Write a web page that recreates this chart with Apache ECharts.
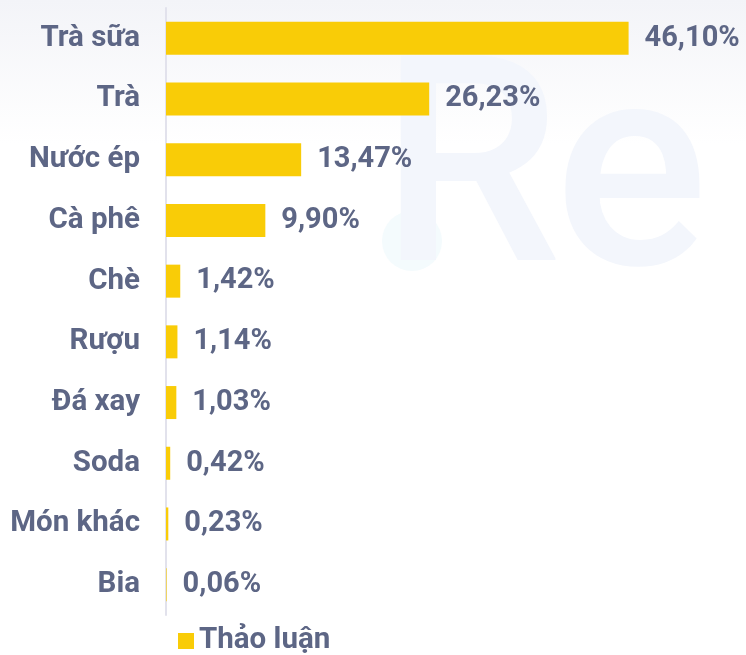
<!DOCTYPE html>
<html>
<head>
<meta charset="utf-8">
<script src="https://cdn.jsdelivr.net/npm/echarts@6/dist/echarts.min.js"></script>
<style>
  html, body { margin: 0; padding: 0; background: #fff; }
  #chart { width: 746px; height: 655px; }
</style>
</head>
<body>
<div id="chart"></div>
<script>
// dữ liệu
const categories = ['Trà sữa', 'Trà', 'Nước ép', 'Cà phê', 'Chè', 'Rượu', 'Đá xay', 'Soda', 'Món khác', 'Bia'];
const thaoLuan = [46.10, 26.23, 13.47, 9.90, 1.42, 1.14, 1.03, 0.42, 0.23, 0.06];
const seriesName = 'Thảo luận';

const textColor = '#5d6685';
const barColor = '#F9CC07';

const chart = echarts.init(document.getElementById('chart'));

const option = {
  backgroundColor: {
    type: 'linear', x: 0, y: 0, x2: 0, y2: 1,
    colorStops: [
      { offset: 0, color: '#f3f4f8' },
      { offset: 0.22, color: '#ffffff' },
      { offset: 1, color: '#ffffff' },
    ],
  },
  textStyle: { fontFamily: 'Roboto' },
  // logo mờ phía sau
  graphic: [
    {
      type: 'circle', z: -10, silent: true,
      shape: { cx: 412, cy: 241, r: 30 },
      style: { fill: '#f4fbfd' },
    },
    {
      type: 'text', z: -10, silent: true,
      left: 380, top: 44,
      style: { text: 'R', font: '500 288px Roboto', fill: '#f3f6fc' },
    },
    {
      type: 'text', z: -10, silent: true,
      left: 554, top: 48,
      style: { text: 'e', font: '500 288px Roboto', fill: '#f3f6fc' },
    },
  ],
  grid: {
    left: 166,
    right: 0,
    top: 8,
    bottom: 40,
    containLabel: false,
  },
  legend: {
    data: [seriesName],
    left: 173,
    top: 621,
    icon: 'rect',
    itemWidth: 16,
    itemHeight: 16,
    itemGap: 8,
    textStyle: { color: textColor, fontSize: 29.5, fontWeight: 'bold', fontFamily: 'Roboto' },
  },
  xAxis: {
    type: 'value',
    min: 0,
    max: 57.8,
    show: false,
  },
  yAxis: {
    type: 'category',
    inverse: true,
    data: categories,
    axisLine: { show: true, lineStyle: { color: '#e2e2ec', width: 2 } },
    axisTick: { show: false },
    axisLabel: {
      color: textColor,
      fontSize: 29.5,
      fontWeight: 'bold',
      fontFamily: 'Roboto',
      margin: 26,
    },
  },
  series: [
    {
      name: seriesName,
      type: 'bar',
      data: thaoLuan,
      barWidth: 33,
      itemStyle: { color: barColor },
      label: {
        show: true,
        position: 'right',
        distance: 16,
        color: textColor,
        fontSize: 29,
        fontWeight: 'bold',
        fontFamily: 'Roboto',
        formatter: (p) => p.value.toFixed(2).replace('.', ',') + '%',
      },
    },
  ],
};

chart.setOption(option);
</script>
</body>
</html>
